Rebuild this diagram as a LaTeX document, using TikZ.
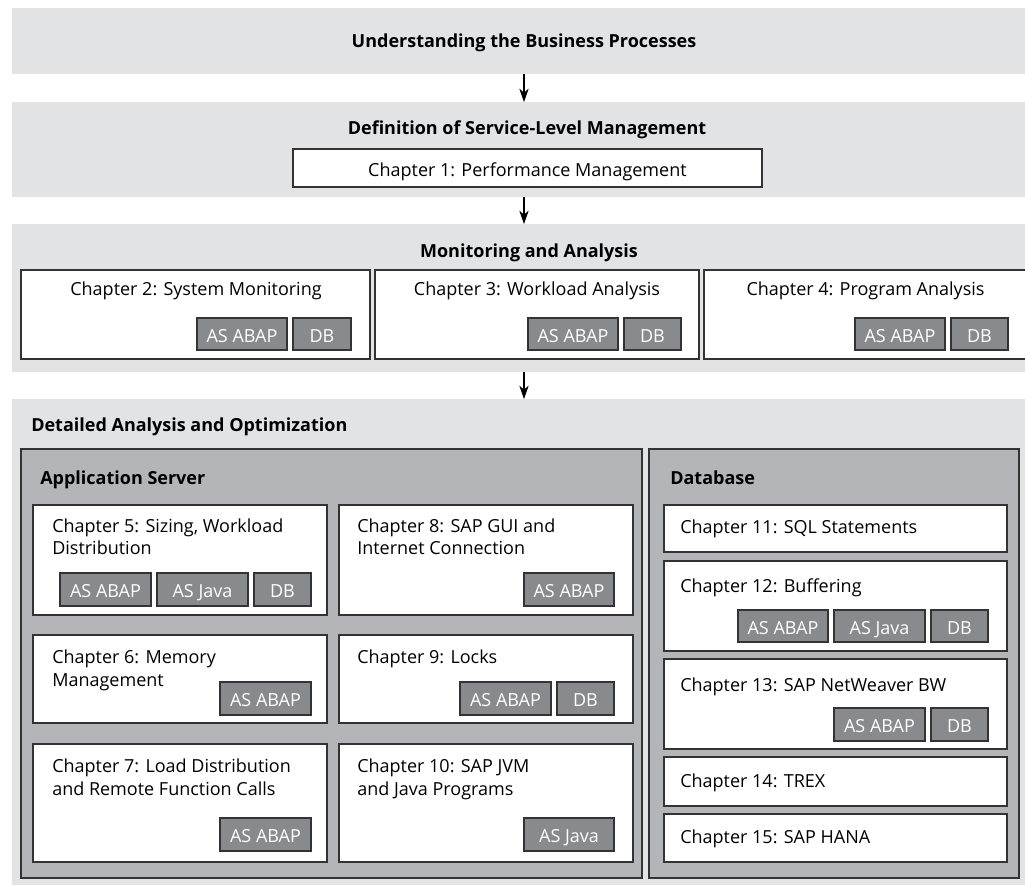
\documentclass[tikz,border=0pt]{standalone}
\usepackage{fontspec}
\setmainfont{Open Sans}
\usetikzlibrary{fit,arrows.meta}
\definecolor{bandgray}{HTML}{E2E3E5}
\definecolor{panelgray}{HTML}{B4B5B8}
\definecolor{badgegray}{HTML}{898A8D}
\definecolor{edgecol}{HTML}{333333}
\newcommand\mybadge[6]{%
  \node[badge, fit={(#2,#3) (#4,#5)}] (#1) {};
  \node[btxt] (#1t) at ({(#2+#4)/2},{#3+24}) {#6};}
\newcommand\mychbox[5]{%
  \node[chbox, fit={(#2,#3) (#4,#5)}] (#1) {};}
\begin{document}
\begin{tikzpicture}[x=0.75pt,y=-0.75pt,
  band/.style={fill=bandgray, draw=none, inner sep=0pt, outer sep=0pt},
  panel/.style={fill=panelgray, draw=edgecol, line width=1.1pt, inner sep=0pt},
  chbox/.style={fill=white, draw=edgecol, line width=1.1pt, inner sep=0pt},
  badge/.style={fill=badgegray, draw=edgecol, line width=1.1pt, inner sep=0pt},
  title/.style={font=\fontsize{13.5}{16}\selectfont\bfseries, inner sep=0pt, anchor=base},
  ltitle/.style={title, anchor=base west},
  txt/.style={font=\fontsize{13.5}{16}\selectfont, inner sep=0pt, anchor=base west},
  ctxt/.style={txt, anchor=base},
  btxt/.style={txt, anchor=base, text=white},
  arr/.style={draw=black, line width=0.8pt, -{Stealth[length=10pt,width=7pt,inset=3pt]}}]
\useasboundingbox (0,0) rectangle (1025,886);
% bands
\node[band, fit={(12,8) (1025,74)}] (b1) {};
\node[band, fit={(12,102) (1025,197)}] (b2) {};
\node[band, fit={(12,224) (1025,372)}] (b3) {};
\node[band, fit={(12,399) (1025,885)}] (b4) {};
\coordinate (ax) at (524,0);
\draw[arr] (b1.south -| ax) -- (b2.north -| ax);
\draw[arr] (b2.south -| ax) -- (b3.north -| ax);
\draw[arr] (b3.south -| ax) -- (b4.north -| ax);
% titles
\node[title] (t1) at (524,47) {Understanding the Business Processes};
\node[title] (t2) at (527,134) {Definition of Service-Level Management};
\node[title] (t3) at (529,257) {Monitoring and Analysis};
\node[ltitle] (t4) at (31,431) {Detailed Analysis and Optimization};
% chapter 1
\mychbox{c1}{293}{149}{762}{187}
\node[ctxt] (c1t) at (527.5,176) {Chapter 1: Performance Management};
% chapters 2-4
\mychbox{c2}{21}{270}{370}{359}
\node[ctxt] (c2t) at (196,295) {Chapter 2: System Monitoring};
\mybadge{c2a}{197}{318}{287}{350}{AS ABAP}
\mybadge{c2b}{293}{318}{351}{350}{DB}
\mychbox{c3}{375}{270}{699}{359}
\node[ctxt] (c3t) at (537,295) {Chapter 3: Workload Analysis};
\mybadge{c3a}{528}{318}{618}{350}{AS ABAP}
\mybadge{c3b}{624}{318}{681}{350}{DB}
\mychbox{c4}{704}{270}{1027}{359}
\node[ctxt] (c4t) at (865.5,295) {Chapter 4: Program Analysis};
\mybadge{c4a}{855}{318}{945}{350}{AS ABAP}
\mybadge{c4b}{951}{318}{1008}{350}{DB}
% panels
\node[panel, fit={(21,449) (642,878)}] (pas) {};
\node[ltitle] (past) at (40,484) {Application Server};
\node[panel, fit={(649,449) (1019,878)}] (pdb) {};
\node[ltitle] (pdbt) at (670,484) {Database};
% application server chapters
\mychbox{c5}{33}{505}{327}{615}
\node[txt] (c5t) at (52,532) {Chapter 5: Sizing, Workload};
\node[txt] (c5u) at (52,554) {Distribution};
\mybadge{c5a}{60}{573}{151}{606}{AS ABAP}
\mybadge{c5b}{157}{573}{248}{606}{AS Java}
\mybadge{c5c}{254}{573}{311}{606}{DB}
\mychbox{c8}{339}{505}{633}{615}
\node[txt] (c8t) at (357,532) {Chapter 8: SAP GUI and};
\node[txt] (c8u) at (357,554) {Internet Connection};
\mybadge{c8a}{524}{573}{614}{606}{AS ABAP}
\mychbox{c6}{33}{635}{327}{723}
\node[txt] (c6t) at (52,663) {Chapter 6: Memory};
\node[txt] (c6u) at (52,686) {Management};
\mybadge{c6a}{220}{682}{311}{715}{AS ABAP}
\mychbox{c9}{339}{635}{633}{723}
\node[txt] (c9t) at (357,663) {Chapter 9: Locks};
\mybadge{c9a}{460}{682}{551}{715}{AS ABAP}
\mybadge{c9b}{557}{682}{614}{715}{DB}
\mychbox{c7}{33}{744}{327}{862}
\node[txt] (c7t) at (52,772) {Chapter 7: Load Distribution};
\node[txt] (c7u) at (52,795) {and Remote Function Calls};
\mybadge{c7a}{220}{818}{311}{851}{AS ABAP}
\mychbox{c10}{339}{744}{633}{862}
\node[txt] (c10t) at (357,772) {Chapter 10: SAP JVM};
\node[txt] (c10u) at (357,795) {and Java Programs};
\mybadge{c10a}{524}{818}{614}{851}{AS Java}
% database chapters
\mychbox{c11}{664}{505}{1007}{552}
\node[txt] (c11t) at (680,533) {Chapter 11: SQL Statements};
\mychbox{c12}{664}{561}{1007}{651}
\node[txt] (c12t) at (680,592) {Chapter 12: Buffering};
\mybadge{c12a}{738}{610}{828}{642}{AS ABAP}
\mybadge{c12b}{834}{610}{925}{642}{AS Java}
\mybadge{c12c}{931}{610}{988}{642}{DB}
\mychbox{c13}{664}{659}{1007}{749}
\node[txt] (c13t) at (680,691) {Chapter 13: SAP NetWeaver BW};
\mybadge{c13a}{834}{708}{925}{741}{AS ABAP}
\mybadge{c13b}{931}{708}{988}{741}{DB}
\mychbox{c14}{664}{757}{1007}{806}
\node[txt] (c14t) at (680,787) {Chapter 14: TREX};
\mychbox{c15}{664}{814}{1007}{862}
\node[txt] (c15t) at (680,843) {Chapter 15: SAP HANA};
\end{tikzpicture}
\end{document}
